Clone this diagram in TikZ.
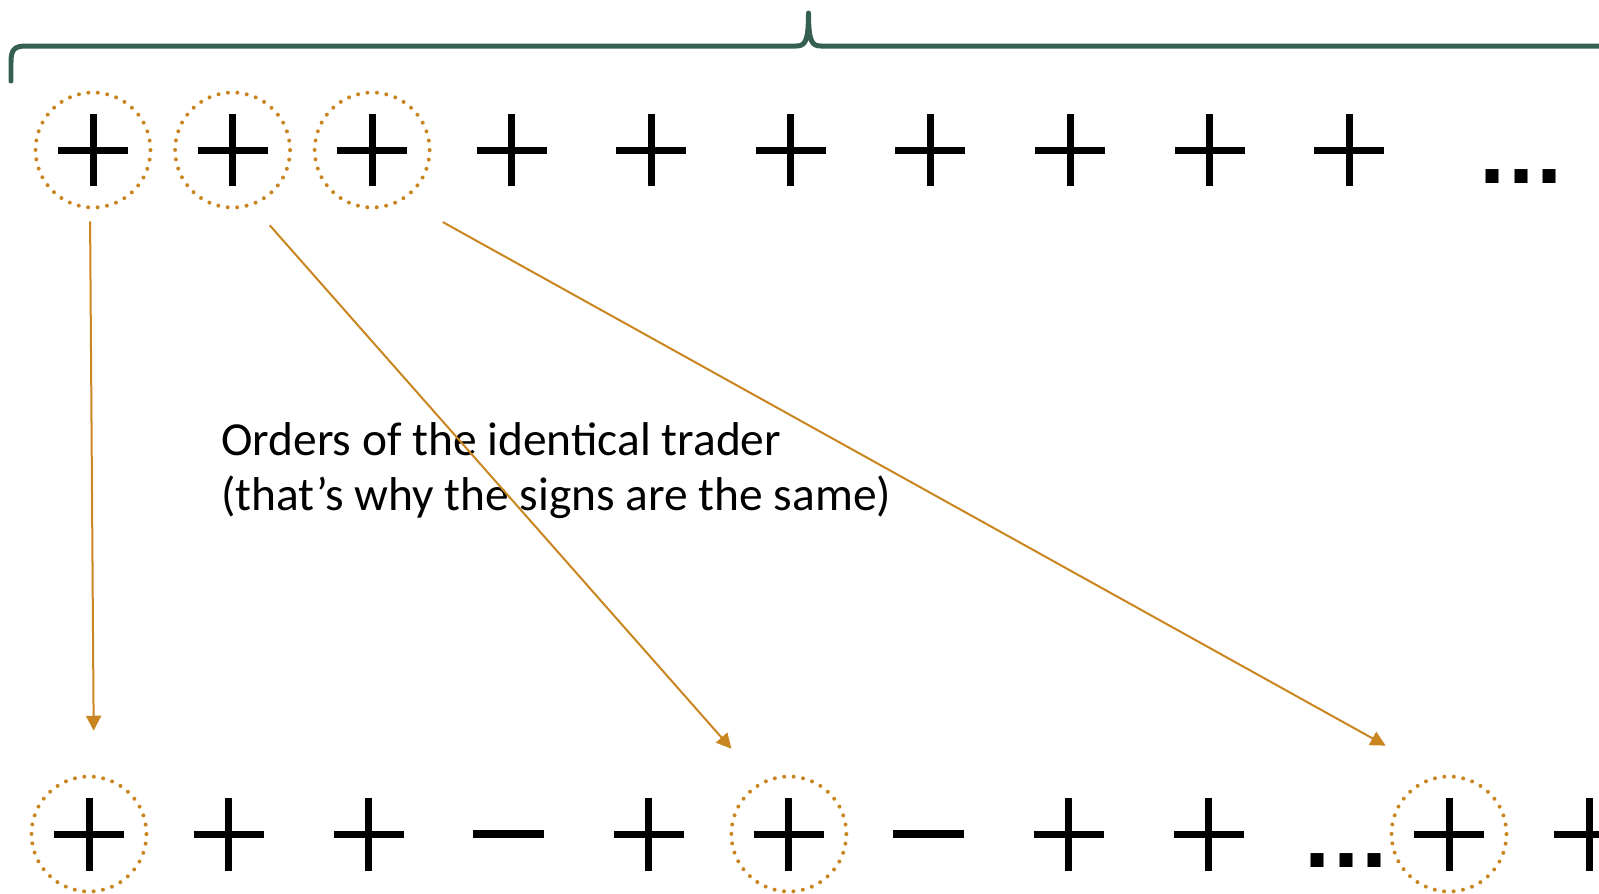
\documentclass[tikz,border=0pt]{standalone}
\usepackage{fontspec}
\setmainfont{Carlito}
\newfontfamily\dotsfont{DejaVu Sans}
\usepackage{xcolor}
\definecolor{TradeGold}{RGB}{201,134,32}
\definecolor{BraceGreen}{RGB}{53,96,81}
\usetikzlibrary{arrows.meta, positioning}
\tikzset{
  % Order signs (drawn, not typeset)
  plussign/.style={
    circle, minimum size=2.3cm, inner sep=0pt, outer sep=0pt,
    path picture={
      \draw[solid, line cap=butt, line width=0.14cm, black]
        ([xshift=-0.7cm]path picture bounding box.center) -- ([xshift=0.7cm]path picture bounding box.center)
        ([yshift=-0.73cm]path picture bounding box.center) -- ([yshift=0.73cm]path picture bounding box.center);
    }
  },
  minussign/.style={
    circle, minimum size=2.3cm, inner sep=0pt, outer sep=0pt,
    path picture={
      \draw[solid, line cap=butt, line width=0.16cm, black]
        ([xshift=-0.71cm]path picture bounding box.center) -- ([xshift=0.71cm]path picture bounding box.center);
    }
  },
  % Dotted ring around the trader's orders
  ringed/.style={
    draw=TradeGold, line width=0.08cm, line cap=round,
    dash pattern=on 0pt off 0.19cm
  },
  % Ellipsis
  etc/.style={font=\dotsfont\bfseries\fontsize{42}{42}\selectfont, inner sep=0pt, anchor=south},
  % Arrows
  arr/.style={-{Triangle[length=0.3cm,width=0.3cm]}, line width=0.04cm, draw=TradeGold, fill=TradeGold},
  % Curly brace
  brace/.style={draw=BraceGreen, line width=0.1cm, line cap=round, line join=round},
  % Caption text
  note/.style={font=\fontsize{27}{31.3}\selectfont, align=left, inner sep=0pt},
}

\begin{document}
\begin{tikzpicture}[x=0.02cm, y=-0.02cm, node distance=0.5cm]
  \useasboundingbox (0,0) rectangle (1599,893);

  %% Brace over the top row
  \draw[brace] (11,81) -- (11,62) .. controls (11,50) and (14,46) .. (26,46)
    -- (796,46) .. controls (805,46) and (808.5,42) .. (808.5,13)
    .. controls (808.5,42) and (812,46) .. (821,46) -- (1605,46);

  %% Top row: orders of the identical trader
  \node[plussign, ringed] (t1) at (93,150) {};
  \node[plussign, ringed, right=0.492cm of t1] (t2) {};
  \node[plussign, ringed, right=0.492cm of t2] (t3) {};
  \node[plussign, right=0.492cm of t3] (t4) {};
  \node[plussign, right=0.492cm of t4] (t5) {};
  \node[plussign, right=0.492cm of t5] (t6) {};
  \node[plussign, right=0.492cm of t6] (t7) {};
  \node[plussign, right=0.492cm of t7] (t8) {};
  \node[plussign, right=0.492cm of t8] (t9) {};
  \node[plussign, right=0.492cm of t9] (t10) {};
  \node[etc] (tdots) at (1521,184) {...};

  %% Bottom row: the whole order flow
  \node[plussign, ringed] (b1) at (89,834) {};
  \node[plussign, right=of b1] (b2) {};
  \node[plussign, right=of b2] (b3) {};
  \node[minussign, right=of b3] (b4) {};
  \node[plussign, right=of b4] (b5) {};
  \node[plussign, ringed, right=of b5] (b6) {};
  \node[minussign, right=of b6] (b7) {};
  \node[plussign, right=of b7] (b8) {};
  \node[plussign, right=of b8] (b9) {};
  \node[etc] (bdots) at (1346,868) {...};
  \node[plussign, ringed] (b10) at (1449,834) {};
  \node[plussign] (b11) at (1589,834) {};

  %% Caption (base = baseline of its last line)
  \node[note, anchor=base west] (lbl) at (221,510)
    {Orders of the identical trader\\(that’s why the signs are the same)};

  %% Arrows from top orders to their place in the flow
  \draw[arr, shorten <=0.28cm, shorten >=0.92cm] (t1.267) -- (b1.85);
  \draw[arr, shorten <=0.56cm, shorten >=0.92cm] (t2.289) -- (b6.118);
  \draw[arr, shorten <=0.94cm, shorten >=1.29cm] (t3.301) -- (b10.97);

\end{tikzpicture}
\end{document}
